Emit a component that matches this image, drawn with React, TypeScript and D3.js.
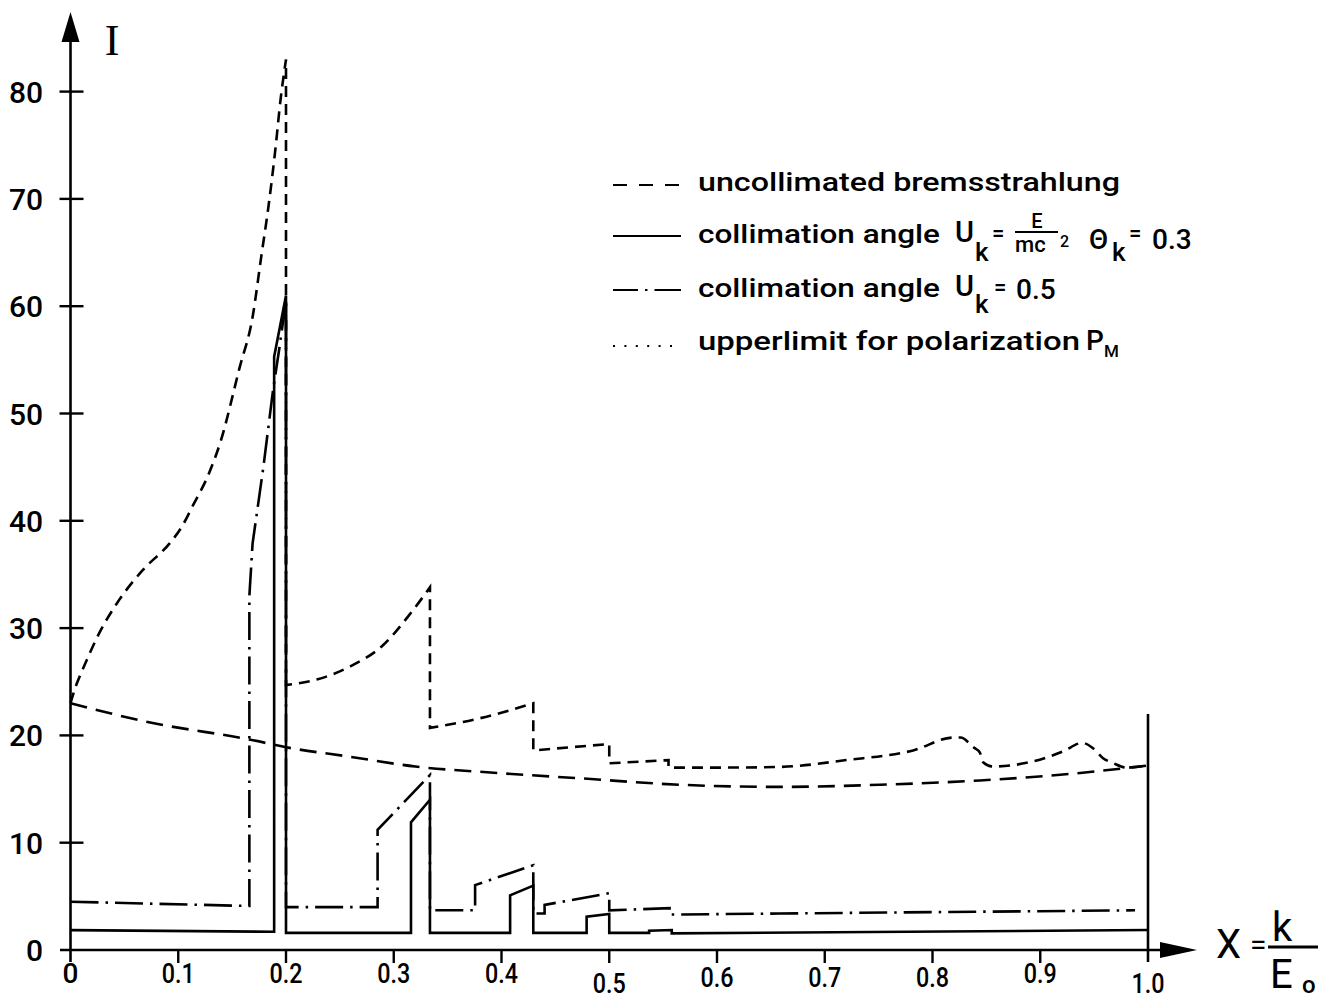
import React from "react";
import * as d3 from "d3";

// ---------- data ----------
const xTickValues = [0, 0.1, 0.2, 0.3, 0.4, 0.5, 0.6, 0.7, 0.8, 0.9, 1.0];
const xTickLabels = ["0", "0.1", "0.2", "0.3", "0.4", "0.5", "0.6", "0.7", "0.8", "0.9", "1.0"];
const yTickValues = [0, 10, 20, 30, 40, 50, 60, 70, 80];
const yTickLabels = ["0", "10", "20", "30", "40", "50", "60", "70", "80"];

// uncollimated bremsstrahlung (short dashes), piecewise with vertical drops
const bremsSeg1: [number, number][] = [
  [0, 23], [0.005, 24.6], [0.009, 25.6], [0.015, 27], [0.027, 29.6], [0.043, 32.3],
  [0.067, 35.4], [0.092, 37.9], [0.103, 39.4], [0.114, 41.5], [0.128, 44.3],
  [0.139, 47.3], [0.157, 54.3], [0.169, 59], [0.177, 64.6], [0.184, 69.5],
  [0.19, 74.5], [0.195, 79.3], [0.2, 83],
];
const bremsSeg2: [number, number][] = [
  [0.2, 24.7], [0.2285, 25.2], [0.259, 26.4], [0.29, 28.4], [0.315, 31.3], [0.3336, 33.8],
];
const bremsSeg3: [number, number][] = [[0.3336, 20.7], [0.38, 21.6], [0.4295, 23.0]];
const bremsSeg4: [number, number][] = [[0.4295, 18.6], [0.5, 19.2]];
const bremsSeg5: [number, number][] = [[0.5, 17.4], [0.555, 17.7]];
const bremsSeg6: [number, number][] = [
  [0.555, 17.0], [0.6, 17.0], [0.658, 17.06], [0.72, 17.7], [0.782, 18.6], [0.8195, 19.8],
  [0.826, 19.8], [0.838, 18.9], [0.844, 18.4], [0.847, 17.5], [0.856, 17.1], [0.89, 17.5],
  [0.921, 18.5], [0.939, 19.3], [0.949, 18.8], [0.958, 17.9], [0.968, 17.4], [0.98, 17.0],
  [1.0, 17.2],
];
const bremsSegments = [bremsSeg1, bremsSeg2, bremsSeg3, bremsSeg4, bremsSeg5, bremsSeg6];

// lower long-dashed curve
const lowerCurve: [number, number][] = [
  [0, 23], [0.074, 21.2], [0.167, 19.6], [0.2, 18.9], [0.26, 18.0], [0.32, 17.1],
  [0.396, 16.5], [0.473, 16.0], [0.566, 15.4], [0.658, 15.2], [0.751, 15.4],
  [0.844, 15.8], [0.937, 16.5], [1.0, 17.2],
];

// collimation angle U_k = 0.3 (solid)
const collim03: [number, number][] = [
  [0, 1.85], [0.189, 1.7], [0.189, 55.3], [0.2, 61], [0.2, 1.6],
  [0.316, 1.6], [0.316, 11.9], [0.3336, 14.0], [0.3336, 1.6],
  [0.408, 1.6], [0.408, 5.1], [0.4295, 6.0], [0.4295, 1.6],
  [0.479, 1.6], [0.479, 3.1], [0.5, 3.35], [0.5, 1.6],
  [0.537, 1.6], [0.537, 1.8], [0.558, 1.86], [0.558, 1.55],
  [1.0, 1.86],
];

// collimation angle U_k = 0.5 (dash-dot)
const collim05: [number, number][] = [
  [0, 4.5], [0.166, 4.1], [0.166, 33], [0.169, 37.9], [0.179, 45], [0.188, 52.2],
  [0.194, 56.2], [0.2, 60.6], [0.2, 4.0],
  [0.285, 4.0], [0.285, 11.2], [0.3336, 16.3], [0.3336, 3.7],
  [0.3755, 3.7], [0.3755, 6.05], [0.4295, 7.9], [0.4295, 3.4],
  [0.44, 3.4], [0.44, 4.2], [0.5, 5.3], [0.5, 3.7],
  [0.556, 3.9], [0.556, 3.3], [0.658, 3.4], [0.988, 3.7],
];

const legendLabels = [
  "uncollimated bremsstrahlung",
  "collimation angle",
  "collimation angle",
  "upperlimit for polarization",
];

// ---------- chart ----------
const W = 1344;
const H = 1001;
const FONT = "Roboto, 'DejaVu Sans', sans-serif";

export default function App() {
  const x = d3.scaleLinear().domain([0, 1]).range([70.5, 1148]);
  const y = d3.scaleLinear().domain([0, 80]).range([950, 91.6]);

  const lin = d3
    .line<[number, number]>()
    .x((d) => x(d[0]))
    .y((d) => y(d[1]));
  const smooth = d3
    .line<[number, number]>()
    .x((d) => x(d[0]))
    .y((d) => y(d[1]))
    .curve(d3.curveMonotoneX);

  const bremsPath = bremsSegments
    .map((seg, i) => {
      const p = smooth(seg) || "";
      return i === 0 ? p : p.replace(/^M/, "L");
    })
    .join("");

  const sw = 2.6;
  const x0 = x(0);
  const y0 = y(0);

  const xLabelDy = (lbl: string) => {
    if (lbl === "0.5" || lbl === "1.0") return 43;
    if (lbl === "0.6" || lbl === "0.7" || lbl === "0.8") return 37;
    return 33;
  };

  const legX0 = 613;
  const legX1 = 681;
  const textX = 698;
  const rowBase = [191, 243, 297, 350];

  return (
    <svg
      width={W}
      height={H}
      viewBox={`0 0 ${W} ${H}`}
      style={{ position: "absolute", left: 0, top: 0, background: "#fff" }}
    >
      <rect x={0} y={0} width={W} height={H} fill="#fff" />

      {/* y axis */}
      <line x1={x0} y1={962} x2={x0} y2={40} stroke="#000" strokeWidth={2.6} />
      <path d={`M${x0 - 9},42 L${x0 + 9},42 L${x0},12 Z`} fill="#000" />
      {yTickValues.map((v, i) => (
        <g key={"yt" + v}>
          {v > 0 && (
            <line x1={x0 - 11} x2={x0 + 13} y1={y(v)} y2={y(v)} stroke="#000" strokeWidth={2.4} />
          )}
          <text
            x={43}
            y={y(v) + 11}
            textAnchor="end"
            fontFamily={FONT}
            fontSize={30}
            fontWeight={500}
            fill="#000"
          >
            {yTickLabels[i]}
          </text>
        </g>
      ))}
      <text x={112} y={55} textAnchor="middle" fontFamily="'Liberation Serif', 'DejaVu Serif', serif" fontSize={44} fill="#000">
        I
      </text>

      {/* x axis */}
      <line x1={60} y1={y0} x2={1165} y2={y0} stroke="#000" strokeWidth={2.6} />
      <path d={`M1160,${y0 - 8} L1160,${y0 + 8} L1197,${y0} Z`} fill="#000" />
      {xTickValues.map((v, i) => (
        <g key={"xt" + v}>
          {v > 0 && v < 1 && (
            <line x1={x(v)} x2={x(v)} y1={y0} y2={y0 + 13} stroke="#000" strokeWidth={2.4} />
          )}
          <text
            x={x(v)}
            y={y0 + xLabelDy(xTickLabels[i])}
            textAnchor="middle"
            fontFamily={FONT}
            fontSize={28}
            fontWeight={500}
            fill="#000"
            {...(xTickLabels[i].length > 1 ? { textLength: 33, lengthAdjust: "spacingAndGlyphs" } : {})}
          >
            {xTickLabels[i]}
          </text>
        </g>
      ))}
      {/* vertical line at x = 1.0 */}
      <line x1={x(1)} x2={x(1)} y1={y(22)} y2={y0 + 12} stroke="#000" strokeWidth={2.6} />

      {/* x axis label X = k / E_o */}
      <text x={1216} y={958} fontFamily={FONT} fontSize={40} fill="#000">X</text>
      <text x={1250} y={955} fontFamily={FONT} fontSize={30} fill="#000">=</text>
      <text x={1272} y={941} fontFamily={FONT} fontSize={40} fill="#000">k</text>
      <line x1={1268} x2={1318} y1={947} y2={947} stroke="#000" strokeWidth={3} />
      <text x={1270} y={988} fontFamily={FONT} fontSize={40} fill="#000">E</text>
      <text x={1302} y={993} fontFamily={FONT} fontSize={24} fontWeight={500} fill="#000">o</text>

      {/* curves */}
      <path d={smooth(lowerCurve) || ""} fill="none" stroke="#000" strokeWidth={sw} strokeDasharray="17 9" />
      <path d={bremsPath} fill="none" stroke="#000" strokeWidth={sw} strokeDasharray="11 7" />
      <path d={lin(collim05) || ""} fill="none" stroke="#000" strokeWidth={sw} strokeDasharray="28 7 2.5 7" />
      <path d={lin(collim03) || ""} fill="none" stroke="#000" strokeWidth={sw} />

      {/* legend samples */}
      <line x1={legX0} x2={legX1} y1={rowBase[0] - 6} y2={rowBase[0] - 6} stroke="#000" strokeWidth={2.2} strokeDasharray="14 12" />
      <line x1={legX0} x2={legX1} y1={rowBase[1] - 7} y2={rowBase[1] - 7} stroke="#000" strokeWidth={2.2} />
      <line x1={legX0} x2={legX1} y1={rowBase[2] - 7} y2={rowBase[2] - 7} stroke="#000" strokeWidth={2.2} strokeDasharray="25 7 2.5 7 40" />
      <line x1={legX0} x2={legX1} y1={rowBase[3] - 4} y2={rowBase[3] - 4} stroke="#000" strokeWidth={2.2} strokeDasharray="2 9.4" />

      {/* legend texts */}
      <g fontFamily={FONT} fontSize={26} fontWeight={500} fill="#000">
        <text x={textX} y={rowBase[0]} textLength={422} lengthAdjust="spacingAndGlyphs">{legendLabels[0]}</text>
        <text x={textX} y={rowBase[1]} textLength={242} lengthAdjust="spacingAndGlyphs">{legendLabels[1]}</text>
        <text x={textX} y={rowBase[2]} textLength={242} lengthAdjust="spacingAndGlyphs">{legendLabels[2]}</text>
        <text x={textX} y={rowBase[3]} textLength={382} lengthAdjust="spacingAndGlyphs">{legendLabels[3]}</text>

        {/* row 2 : U_k = E/mc² Θ_k = 0.3 */}
        <text x={955} y={rowBase[1] - 1} fontSize={29}>U</text>
        <text x={975} y={rowBase[1] + 18} fontSize={26}>k</text>
        <text x={992} y={rowBase[1] - 2} fontSize={22}>=</text>
        <text x={1037} y={rowBase[1] - 15} fontSize={20} textAnchor="middle">E</text>
        <line x1={1015} x2={1058} y1={rowBase[1] - 11} y2={rowBase[1] - 11} stroke="#000" strokeWidth={2} />
        <text x={1015} y={rowBase[1] + 9} fontSize={22}>mc</text>
        <text x={1060} y={rowBase[1] + 4} fontSize={16}>2</text>
        <text x={1089} y={rowBase[1] + 6} fontSize={28}>Θ</text>
        <text x={1112} y={rowBase[1] + 18} fontSize={26}>k</text>
        <text x={1129} y={rowBase[1] - 2} fontSize={22}>=</text>
        <text x={1152} y={rowBase[1] + 6} fontSize={28}>0.3</text>

        {/* row 3 : U_k = 0.5 */}
        <text x={955} y={rowBase[2] - 1} fontSize={29}>U</text>
        <text x={975} y={rowBase[2] + 16} fontSize={26}>k</text>
        <text x={994} y={rowBase[2] - 2} fontSize={22}>=</text>
        <text x={1016} y={rowBase[2] + 2} fontSize={28}>0.5</text>

        {/* row 4 : P_M */}
        <text x={1086} y={rowBase[3]} fontSize={28}>P</text>
        <text x={1104} y={rowBase[3] + 7} fontSize={17}>M</text>
      </g>
    </svg>
  );
}
